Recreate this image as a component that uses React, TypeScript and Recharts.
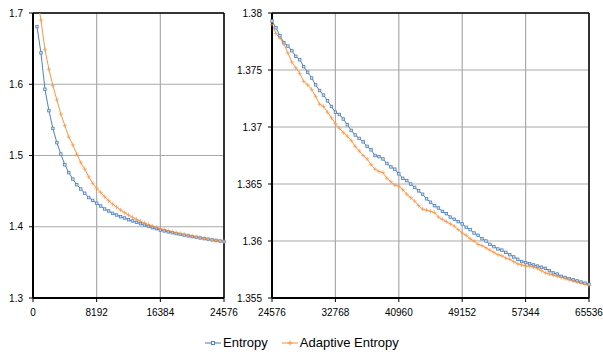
import { LineChart, Line, XAxis, YAxis, CartesianGrid, ReferenceLine } from 'recharts';

const BLUE = '#4f81bd';
const ORANGE = '#f79646';
const FONT = '"Liberation Sans", Arial, sans-serif';

// samples every 512 symbols
const STEP = 512;

// left panel: 512 .. 24576
const entropyLeft = [
  1.681, 1.644, 1.593, 1.563, 1.538, 1.518, 1.502, 1.487, 1.476, 1.467, 1.459, 1.453,
  1.447, 1.441, 1.437, 1.4329, 1.4291, 1.4249, 1.4221, 1.4188, 1.4165, 1.4141, 1.4123, 1.4099,
  1.4081, 1.4062, 1.4043, 1.4025, 1.4006, 1.3987, 1.3973, 1.3954, 1.3941, 1.3928, 1.3916, 1.3904,
  1.3893, 1.3882, 1.3872, 1.3862, 1.3852, 1.3843, 1.3834, 1.3825, 1.3816, 1.3808, 1.38, 1.3793,
];
const adaptiveLeft = [
  1.725, 1.69, 1.649, 1.621, 1.598, 1.578, 1.558, 1.542, 1.526, 1.515, 1.502, 1.49,
  1.481, 1.47, 1.461, 1.4539, 1.4483, 1.4422, 1.4366, 1.4319, 1.4277, 1.4235, 1.4198, 1.4165,
  1.4132, 1.4104, 1.4076, 1.4053, 1.4029, 1.4011, 1.3992, 1.3973, 1.3958, 1.3944, 1.393, 1.3917,
  1.3904, 1.3892, 1.388, 1.3869, 1.3858, 1.3847, 1.3837, 1.3827, 1.3817, 1.3807, 1.3798, 1.379,
];

// right panel: 24576 .. 65536
const entropyRight = [
  1.3793, 1.3787, 1.378, 1.3774, 1.3771, 1.3767, 1.3762, 1.3759, 1.3753, 1.3748, 1.3743,
  1.3737, 1.3732, 1.3728, 1.3723, 1.3718, 1.3713, 1.3711, 1.3707, 1.3702, 1.3697,
  1.3693, 1.369, 1.3687, 1.3683, 1.368, 1.3675, 1.3674, 1.3672, 1.3668, 1.3665,
  1.3663, 1.3659, 1.3655, 1.3653, 1.365, 1.3647, 1.3644, 1.3641, 1.3637, 1.3634,
  1.3631, 1.3629, 1.3626, 1.3624, 1.3621, 1.3619, 1.3617, 1.3615, 1.3612, 1.361,
  1.3607, 1.3605, 1.3602, 1.36, 1.3597, 1.3595, 1.3593, 1.3592, 1.359, 1.3588,
  1.3586, 1.3584, 1.3582, 1.3581, 1.358, 1.3579, 1.3578, 1.3577, 1.3576, 1.3574,
  1.3572, 1.3571, 1.3569, 1.3568, 1.3567, 1.3566, 1.3565, 1.3564, 1.3563, 1.3562,
];
const adaptiveRight = [
  1.379, 1.3782, 1.3778, 1.3773, 1.3765, 1.3757, 1.3752, 1.3747, 1.374, 1.3737, 1.3733,
  1.3727, 1.372, 1.3718, 1.3713, 1.3708, 1.3703, 1.3699, 1.3695, 1.3692, 1.3688,
  1.3683, 1.3679, 1.3675, 1.3672, 1.3667, 1.3663, 1.3661, 1.366, 1.3655, 1.3652,
  1.3649, 1.3648, 1.3645, 1.3641, 1.3638, 1.3635, 1.3631, 1.3628, 1.3627, 1.3626,
  1.3625, 1.3621, 1.3619, 1.3617, 1.3615, 1.3613, 1.361, 1.3607, 1.3605, 1.3602,
  1.36, 1.3597, 1.3596, 1.3594, 1.3592, 1.359, 1.3588, 1.3587, 1.3585, 1.3584,
  1.3582, 1.358, 1.3579, 1.3578, 1.3578, 1.3577, 1.3576, 1.3574, 1.3572, 1.3571,
  1.357, 1.3569, 1.3568, 1.3567, 1.3566, 1.3565, 1.3564, 1.3563, 1.3562, 1.3561,
];

const leftXTicks = [0, 8192, 16384, 24576];
const leftYTicks = [1.3, 1.4, 1.5, 1.6, 1.7];
const rightXTicks = [24576, 32768, 40960, 49152, 57344, 65536];
const rightYTicks = [1.355, 1.36, 1.365, 1.37, 1.375, 1.38];

const leftData = entropyLeft.map((v, i) => ({ x: (i + 1) * STEP, entropy: v, adaptive: adaptiveLeft[i] }));
const rightData = entropyRight.map((v, i) => ({ x: 24576 + i * STEP, entropy: v, adaptive: adaptiveRight[i] }));

const SquareDot = (props: any) => {
  const { cx, cy, index } = props;
  if (cx == null || cy == null) return <g key={index} />;
  return <rect key={index} x={cx - 1.25} y={cy - 1.25} width={2.5} height={2.5} fill="#dbe5f1" stroke={BLUE} strokeWidth={0.8} />;
};

const PlusDot = (props: any) => {
  const { cx, cy, index } = props;
  if (cx == null || cy == null) return <g key={index} />;
  return (
    <g key={index} stroke={ORANGE} strokeWidth={0.8} strokeOpacity={0.85}>
      <line x1={cx - 2.2} y1={cy} x2={cx + 2.2} y2={cy} />
      <line x1={cx} y1={cy - 2.2} x2={cx} y2={cy + 2.2} />
    </g>
  );
};

const tick = { fontSize: 10, fill: '#000', fontFamily: FONT };

function Panel({ data, xTicks, yTicks, yWidth, width, right }: any) {
  const xMax = xTicks[xTicks.length - 1];
  const yMax = yTicks[yTicks.length - 1];
  return (
    <LineChart width={width} height={330} data={data} margin={{ top: 13, right, bottom: 2, left: 0 }}>
      <CartesianGrid stroke="#aaaaaa" strokeWidth={1.2} />
      <XAxis
        dataKey="x"
        type="number"
        domain={[xTicks[0], xMax]}
        ticks={xTicks}
        interval={0}
        height={30}
        tick={tick}
        tickSize={4}
        tickMargin={7}
        axisLine={{ stroke: '#000', strokeWidth: 2 }}
        tickLine={{ stroke: '#000' }}
      />
      <YAxis
        type="number"
        domain={[yTicks[0], yMax]}
        ticks={yTicks}
        interval={0}
        allowDataOverflow
        width={yWidth}
        tick={tick}
        tickSize={4}
        tickMargin={6}
        axisLine={{ stroke: '#000', strokeWidth: 2 }}
        tickLine={{ stroke: '#000' }}
      />
      <ReferenceLine y={yMax} stroke="#000" strokeWidth={1.5} />
      <ReferenceLine x={xMax} stroke="#000" strokeWidth={1.5} />
      <Line dataKey="entropy" stroke={BLUE} strokeWidth={1} dot={<SquareDot />} activeDot={false} isAnimationActive={false} />
      <Line dataKey="adaptive" stroke={ORANGE} strokeWidth={1} dot={<PlusDot />} activeDot={false} isAnimationActive={false} />
    </LineChart>
  );
}

function LegendIcon({ color, plus }: { color: string; plus?: boolean }) {
  return (
    <svg width={16} height={10} style={{ marginRight: 2 }}>
      <line x1={0} y1={5} x2={16} y2={5} stroke={color} strokeWidth={1.5} strokeOpacity={0.7} />
      {plus ? (
        <g stroke={color} strokeWidth={1}>
          <line x1={5.5} y1={5} x2={10.5} y2={5} />
          <line x1={8} y1={2.5} x2={8} y2={7.5} />
        </g>
      ) : (
        <rect x={6.5} y={3.5} width={3} height={3} fill="#fff" stroke={color} strokeWidth={1} />
      )}
    </svg>
  );
}

export default function App() {
  return (
    <div style={{ position: 'absolute', left: 0, top: 0, width: 603, height: 354, background: '#fff', fontFamily: FONT }}>
      <div style={{ position: 'absolute', left: 0, top: 0 }}>
        <Panel data={leftData} xTicks={leftXTicks} yTicks={leftYTicks} yWidth={33} width={240} right={16} />
      </div>
      <div style={{ position: 'absolute', left: 230, top: 0 }}>
        <Panel data={rightData} xTicks={rightXTicks} yTicks={rightYTicks} yWidth={42} width={373} right={14} />
      </div>
      <div style={{ position: 'absolute', left: 205, top: 335, display: 'flex', alignItems: 'center', fontSize: 13, color: '#000' }}>
        <LegendIcon color={BLUE} />
        <span>Entropy</span>
        <span style={{ width: 14 }} />
        <LegendIcon color={ORANGE} plus />
        <span>Adaptive Entropy</span>
      </div>
    </div>
  );
}
